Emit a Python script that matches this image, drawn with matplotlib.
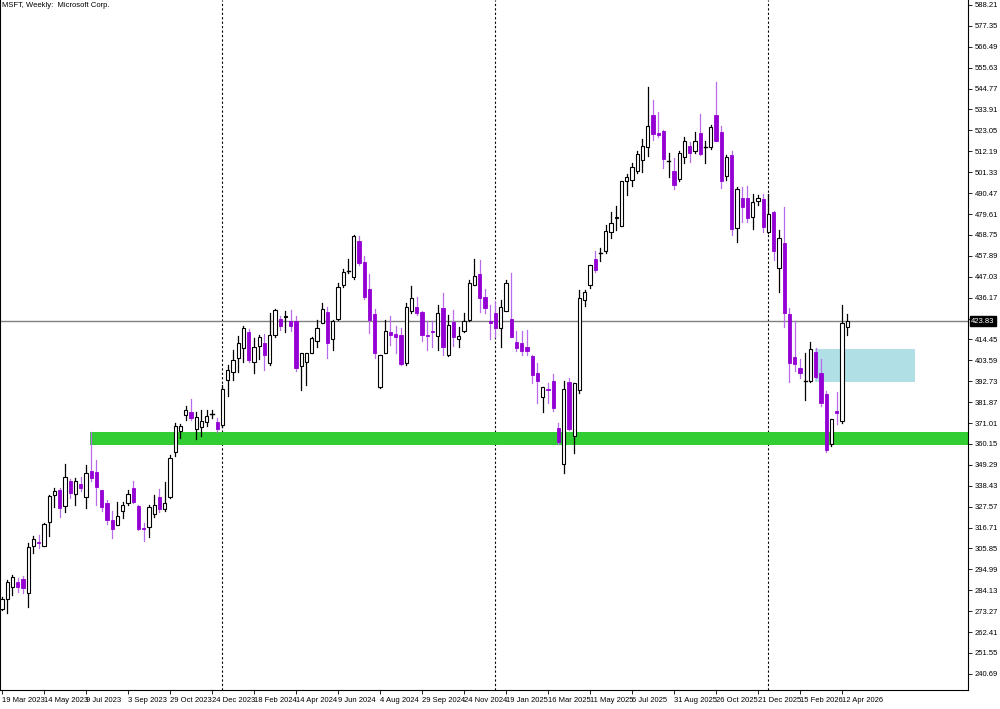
import matplotlib.pyplot as plt
from matplotlib.patches import Rectangle

plt.rcParams['font.family'] = ['Liberation Sans', 'DejaVu Sans']

# weekly OHLC, MSFT, 19 Mar 2023 .. 19 Apr 2026
opens = [274.4, 279.6, 285.9, 288.5, 290.0, 282.7, 307.2, 309.2, 307.2, 319.6,
         333.6, 336.2, 327.9, 340.9, 334.2, 339.4, 332.6, 346.1, 345.6, 336.2,
         329.5, 320.7, 318.1, 325.3, 329.5, 337.3, 327.9, 316.5, 317.0, 323.8,
         332.6, 326.4, 332.6, 356.0, 366.9, 375.2, 376.8, 367.9, 369.0, 371.6,
         375.7, 371.6, 370.0, 393.4, 397.6, 404.8, 410.0, 418.3, 402.7, 411.1,
         412.6, 402.2, 416.8, 425.1, 426.1, 424.0, 424.0, 400.7, 402.7, 407.4,
         413.7, 423.0, 428.7, 414.7, 425.1, 442.7, 450.0, 446.9, 465.6, 454.7,
         440.7, 427.7, 389.8, 407.4, 418.3, 417.3, 416.8, 402.2, 429.2, 431.3,
         428.7, 416.8, 418.8, 416.2, 430.8, 406.4, 423.5, 414.7, 418.8, 424.6,
         442.7, 448.5, 436.5, 424.0, 428.2, 420.4, 429.2, 425.1, 413.1, 412.6,
         410.5, 405.9, 397.0, 384.6, 388.7, 392.9, 368.5, 349.8, 392.4, 364.3,
         388.2, 434.9, 442.7, 456.3, 459.4, 460.4, 470.3, 477.6, 473.4, 496.8,
         497.3, 502.0, 507.7, 514.4, 531.1, 521.7, 522.7, 507.2, 502.0, 497.8,
         509.2, 515.0, 512.4, 521.7, 514.4, 514.4, 531.1, 522.2, 499.4, 510.3,
         472.4, 488.0, 488.0, 478.1, 486.4, 487.4, 470.3, 480.7, 451.6, 464.6,
         427.7, 405.3, 399.6, 392.9, 392.9, 408.0, 397.0, 386.1, 360.1, 377.3,
         372.1, 420.9]
highs = [280.7, 289.5, 292.1, 290.5, 291.6, 308.7, 312.3, 312.9, 319.1, 333.6,
         337.3, 337.3, 349.8, 341.9, 342.5, 343.0, 349.2, 366.4, 351.8, 336.2,
         331.1, 325.3, 330.0, 330.0, 336.2, 340.9, 328.5, 319.1, 328.5, 333.6,
         336.8, 340.4, 354.4, 371.1, 370.5, 379.9, 383.5, 376.8, 377.8, 377.8,
         377.8, 373.6, 390.8, 401.2, 409.0, 416.2, 421.4, 419.9, 415.2, 416.8,
         417.3, 428.2, 430.3, 426.6, 429.2, 429.8, 426.6, 407.4, 407.4, 415.7,
         424.6, 433.4, 431.3, 424.6, 443.8, 451.1, 456.2, 468.7, 468.2, 457.8,
         448.5, 430.3, 406.4, 424.6, 426.6, 421.4, 420.4, 433.4, 442.2, 436.5,
         429.2, 424.0, 424.0, 432.4, 438.6, 427.2, 429.8, 420.9, 428.2, 445.3,
         456.2, 455.7, 440.7, 432.4, 434.4, 435.0, 445.3, 449.0, 418.8, 418.8,
         419.4, 406.4, 402.2, 389.8, 391.8, 396.5, 371.1, 392.9, 394.4, 391.8,
         440.1, 440.1, 453.1, 460.4, 461.9, 473.9, 480.7, 483.8, 496.8, 500.4,
         506.1, 512.4, 518.6, 545.6, 538.9, 532.6, 523.2, 511.3, 508.7, 512.4,
         519.6, 517.1, 522.2, 531.6, 517.6, 525.8, 548.2, 525.3, 510.3, 512.4,
         493.7, 493.7, 494.2, 490.0, 489.5, 490.0, 490.0, 481.2, 471.3, 483.3,
         430.8, 424.0, 404.3, 407.4, 413.1, 410.0, 404.3, 387.7, 373.1, 387.2,
         432.4, 427.7]
lows = [273.9, 272.3, 281.7, 283.3, 282.7, 275.5, 303.5, 306.1, 307.2, 312.3,
        327.4, 322.2, 324.8, 332.1, 328.5, 335.7, 326.9, 340.9, 328.5, 325.3,
        318.6, 311.3, 318.1, 321.7, 328.5, 329.5, 315.5, 309.7, 311.8, 322.2,
        324.8, 325.3, 332.1, 353.9, 363.3, 372.6, 372.6, 362.7, 364.3, 369.5,
        373.6, 366.4, 369.0, 385.1, 393.4, 397.6, 402.7, 402.7, 397.1, 404.3,
        398.6, 401.2, 415.7, 419.4, 418.3, 418.8, 398.1, 388.2, 390.8, 407.4,
        410.5, 423.0, 404.8, 409.0, 424.6, 441.7, 449.0, 445.9, 453.1, 435.5,
        417.8, 404.8, 389.2, 407.4, 411.6, 407.4, 401.2, 401.2, 428.2, 427.2,
        413.7, 409.0, 410.5, 409.0, 406.4, 405.9, 411.1, 410.5, 418.3, 424.0,
        442.7, 428.7, 428.2, 414.7, 415.7, 410.5, 429.2, 415.7, 408.5, 406.4,
        406.4, 391.8, 381.4, 376.8, 381.4, 377.3, 360.1, 345.1, 367.4, 355.5,
        386.6, 431.8, 441.1, 449.5, 455.2, 459.4, 467.2, 471.3, 473.4, 489.5,
        494.2, 501.0, 501.5, 509.8, 518.1, 519.6, 503.5, 498.8, 492.6, 496.8,
        506.1, 506.6, 511.3, 510.3, 506.1, 513.4, 517.6, 493.1, 497.3, 468.7,
        465.1, 475.5, 475.5, 471.8, 484.3, 470.3, 469.8, 455.7, 439.1, 420.9,
        392.4, 398.1, 394.4, 383.0, 392.4, 394.4, 379.9, 356.0, 359.1, 370.5,
        371.1, 416.8]
closes = [279.6, 288.5, 291.1, 285.9, 285.3, 306.6, 310.8, 308.7, 318.6, 333.1,
          335.7, 326.9, 343.0, 334.7, 340.9, 337.3, 345.1, 342.5, 337.8, 327.4,
          320.7, 316.0, 322.7, 328.5, 334.2, 330.0, 316.0, 316.0, 327.4, 328.5,
          326.4, 329.5, 352.9, 369.5, 369.5, 377.8, 373.6, 374.2, 372.1, 374.7,
          375.5, 367.9, 388.7, 398.6, 403.8, 412.6, 420.4, 403.8, 410.5, 415.7,
          406.4, 416.8, 429.8, 421.4, 426.6, 421.4, 399.6, 407.4, 407.4, 415.2,
          420.4, 430.3, 412.6, 424.0, 441.7, 449.5, 450.0, 468.2, 454.2, 436.5,
          424.6, 407.4, 406.4, 418.8, 416.8, 415.7, 401.7, 431.3, 436.0, 428.2,
          416.8, 416.2, 418.3, 428.2, 410.5, 422.0, 415.7, 416.2, 424.0, 443.8,
          447.4, 436.0, 430.8, 423.0, 420.4, 431.3, 443.8, 415.7, 410.0, 408.5,
          408.5, 395.9, 392.9, 389.8, 388.2, 378.8, 361.2, 388.7, 367.9, 391.8,
          436.0, 439.1, 453.1, 450.5, 459.6, 470.8, 474.9, 478.1, 496.8, 498.9,
          504.0, 510.8, 515.0, 525.3, 521.2, 520.7, 508.2, 506.9, 494.7, 511.3,
          517.6, 511.3, 517.6, 510.8, 514.2, 524.8, 517.6, 496.8, 509.2, 471.8,
          492.6, 483.3, 477.6, 485.9, 488.0, 472.9, 479.6, 460.4, 467.2, 428.2,
          402.2, 401.7, 397.0, 392.6, 409.5, 395.0, 381.4, 357.0, 373.1, 376.2,
          423.0, 423.8]

date_labels = ['19 Mar 2023', '14 May 2023', '9 Jul 2023', '3 Sep 2023', '29 Oct 2023',
               '24 Dec 2023', '18 Feb 2024', '14 Apr 2024', '9 Jun 2024', '4 Aug 2024',
               '29 Sep 2024', '24 Nov 2024', '19 Jan 2025', '16 Mar 2025', '11 May 2025',
               '6 Jul 2025', '31 Aug 2025', '26 Oct 2025', '21 Dec 2025', '15 Feb 2026',
               '12 Apr 2026']
year_breaks = [42, 94, 146]          # candle index of first bar of each new year
last_price = 423.83
support_zone = (359.6, 366.4)        # green band
demand_zone = (392.3, 409.5)         # light blue box
price_ticks = [240.69 + 10.86 * k for k in range(33)]

UP_EDGE = 'black'
DOWN_BODY = '#9400D3'
DOWN_WICK = '#B86BEB'

fig = plt.figure(figsize=(10, 7.09), dpi=100)
ax = fig.add_axes([0, 19 / 709, 968 / 1000, 690 / 709])

ymin, ymax = 232.3, 590.8
xmin, xmax = -0.38, 184.0
ax.set_xlim(xmin, xmax)
ax.set_ylim(ymin, ymax)

# zones
ax.add_patch(Rectangle((16.8, support_zone[0]), xmax - 16.8, support_zone[1] - support_zone[0],
                       facecolor='#32CD32', edgecolor='none', zorder=1))
ax.add_patch(Rectangle((154.8, demand_zone[0]), 19.1, demand_zone[1] - demand_zone[0],
                       facecolor='#B0E0E6', edgecolor='none', zorder=1))

for xb in year_breaks:
    ax.axvline(xb, color='black', lw=0.8, ls=(0, (2, 2)), zorder=0)
ax.axhline(last_price, color='#808080', lw=1.0, zorder=2)

w = 0.6
for i, (o, h, l, c) in enumerate(zip(opens, highs, lows, closes)):
    if abs(c - o) < 0.4:
        ax.plot([i, i], [l, h], color='black', lw=0.9, zorder=3)
        ax.plot([i - w / 2, i + w / 2], [c, c], color='black', lw=1.0, zorder=3)
    elif c > o:
        ax.plot([i, i], [l, h], color='black', lw=0.9, zorder=3)
        ax.add_patch(Rectangle((i - w / 2, o), w, c - o, facecolor='white',
                               edgecolor=UP_EDGE, lw=0.8, zorder=4))
    else:
        ax.plot([i, i], [l, h], color=DOWN_WICK, lw=0.9, zorder=3)
        ax.add_patch(Rectangle((i - w / 2, c), w, o - c, facecolor=DOWN_BODY,
                               edgecolor=DOWN_BODY, lw=0.6, zorder=4))

# axes styling
ax.yaxis.tick_right()
ax.set_yticks(price_ticks)
# the tick next to the last-price box is covered by it in the original
ax.set_yticklabels(['' if abs(t - last_price) < 3 else f'{t:.2f}' for t in price_ticks],
                   fontsize=5.5)
ax.tick_params(axis='y', length=3, width=0.6, pad=2)
ax.set_xticks(range(0, 161, 8))
ax.set_xticklabels(date_labels, fontsize=5.5, ha='left')
ax.tick_params(axis='x', length=3, width=0.6, pad=2)
for lbl in ax.get_xticklabels():
    lbl.set_x(lbl.get_position()[0])
for s in ax.spines.values():
    s.set_linewidth(0.8)
ax.spines['top'].set_visible(False)

ax.text(1.003, (last_price - ymin) / (ymax - ymin), f'{last_price:.2f}', transform=ax.transAxes,
        fontsize=5.5, color='white', va='center', ha='left',
        bbox=dict(facecolor='black', edgecolor='black', pad=1.0))
ax.text(0.002, 0.997, 'MSFT, Weekly:  Microsoft Corp.', transform=ax.transAxes,
        fontsize=5.5, va='top', ha='left')

fig.savefig('out.png', dpi=100)
